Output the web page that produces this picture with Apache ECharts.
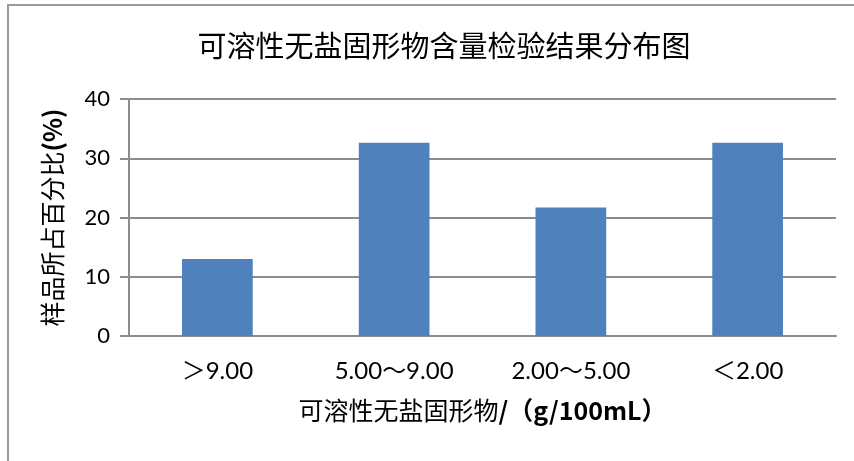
<!DOCTYPE html>
<html>
<head>
<meta charset="utf-8">
<script src="https://cdn.jsdelivr.net/npm/echarts@6/dist/echarts.min.js"></script>
<style>
  html, body { margin: 0; padding: 0; background: #fff; }
  #wrap { position: relative; width: 854px; height: 461px; overflow: hidden; }
  #frame { position: absolute; left: 7px; top: 4px; width: 900px; height: 500px;
           border-left: 2px solid #9a9a9a; border-top: 2px solid #9a9a9a; box-sizing: border-box; }
  #chart { position: absolute; left: 0; top: 0; width: 854px; height: 461px; }
</style>
</head>
<body>
<div id="wrap">
  <div id="frame"></div>
  <div id="chart"></div>
</div>
<script>
// Soluble salt-free solids content: share of samples per range
const categories = ['＞9.00', '5.00～9.00', '2.00～5.00', '＜2.00'];
const shares = [13.0, 32.6, 21.7, 32.6];
const yTicks = { min: 0, max: 40, interval: 10 };

const cjk = '"Noto Sans CJK SC", "Noto Sans", sans-serif';
const latin = 'Lato, "Noto Sans CJK SC", sans-serif';
const gray = '#8c8c8c';

const chart = echarts.init(document.getElementById('chart'), null, { renderer: 'canvas' });
chart.setOption({
  animation: false,
  backgroundColor: 'transparent',
  title: {
    text: '可溶性无盐固形物含量检验结果分布图',
    left: 439, top: 26, textAlign: 'center',
    textStyle: { fontFamily: cjk, fontWeight: 'normal', fontSize: 29, color: '#000' }
  },
  grid: { left: 129, right: 18, top: 99, bottom: 125, containLabel: false },
  xAxis: {
    type: 'category',
    data: categories,
    axisLine: { lineStyle: { color: gray, width: 2 } },
    axisTick: { show: false },
    axisLabel: { margin: 23, fontFamily: latin, fontSize: 24, color: '#000' },
    name: '{a|可溶性无盐固形物}{b|/（g/100mL）}',
    nameLocation: 'middle',
    nameGap: 62,
    nameTextStyle: {
      rich: {
        a: { fontFamily: cjk, fontSize: 25, color: '#000' },
        b: { fontFamily: cjk, fontSize: 25, fontWeight: 'bold', color: '#000' }
      }
    }
  },
  yAxis: {
    type: 'value',
    min: yTicks.min, max: yTicks.max, interval: yTicks.interval,
    axisLine: { show: true, lineStyle: { color: gray, width: 2 } },
    axisTick: { show: true, length: 9, lineStyle: { color: gray, width: 2 } },
    splitLine: { lineStyle: { color: gray, width: 2 } },
    axisLabel: { margin: 19, fontFamily: latin, fontSize: 22, color: '#000' },
    name: '{a|样品所占百分比}{b|(%)}',
    nameLocation: 'middle',
    nameGap: 64,
    nameTextStyle: {
      rich: {
        a: { fontFamily: cjk, fontSize: 25, color: '#000' },
        b: { fontFamily: cjk, fontSize: 25, fontWeight: 'bold', color: '#000' }
      }
    }
  },
  series: [{
    type: 'bar',
    data: shares,
    barWidth: '40%',
    itemStyle: { color: '#4f81bd' }
  }]
});
</script>
</body>
</html>
